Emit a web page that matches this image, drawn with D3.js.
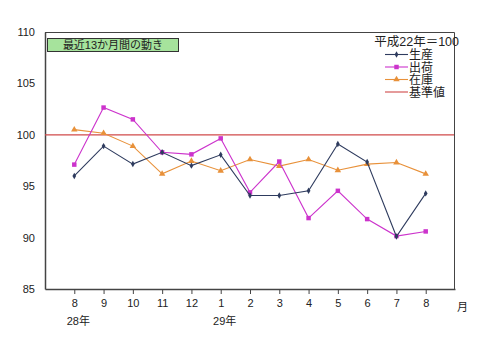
<!DOCTYPE html>
<html>
<head>
<meta charset="utf-8">
<script src="https://cdn.jsdelivr.net/npm/d3@7/dist/d3.min.js"></script>
<style>
  body { margin: 0; background: #fff; }
  .chart-text { font-family: "Liberation Sans", "Noto Sans CJK JP", sans-serif; font-size: 11px; fill: #222; }
</style>
</head>
<body>
<div id="chart"></div>
<script>
// months shown on the x axis (28年8月 .. 29年8月)
const months = ['8', '9', '10', '11', '12', '1', '2', '3', '4', '5', '6', '7', '8'];
const yearLabels = [{ index: 0, text: '28年' }, { index: 5, text: '29年' }];
const yTicks = [85, 90, 95, 100, 105, 110];

// 平成22年=100
const production = [96.0, 98.9, 97.15, 98.3, 97.0, 98.05, 94.1, 94.1, 94.55, 99.1, 97.35, 90.1, 94.3];
const shipments = [97.1, 102.65, 101.5, 98.3, 98.1, 99.65, 94.4, 97.4, 91.9, 94.55, 91.8, 90.15, 90.6];
const inventory = [100.5, 100.15, 98.9, 96.2, 97.45, 96.5, 97.6, 96.95, 97.6, 96.55, 97.15, 97.3, 96.2];
const baseline = 100;

const seriesNames = ['生産', '出荷', '在庫'];

const WIDTH = 480;
const HEIGHT = 351;

// plot box in pixels
const margin = { top: 32, right: 25, bottom: 62, left: 45 };
const width = WIDTH - margin.left - margin.right;
const height = HEIGHT - margin.top - margin.bottom;

const svg = d3
  .select('#chart')
  .append('svg')
  .attr('width', WIDTH)
  .attr('height', HEIGHT);

const g = svg
  .append('g')
  .attr('transform', 'translate(' + margin.left + ',' + margin.top + ')');

// one slot per month, with an empty slot at each end
const x = d3
  .scalePoint()
  .domain(d3.range(months.length))
  .range([0, width])
  .padding(1);

const y = d3.scaleLinear().domain([85, 110]).range([height, 0]);

// frame (top + right)
g.append('path')
  .attr('d', `M0,0.5H${width - 0.5}V${height}`)
  .attr('fill', 'none')
  .attr('stroke', '#444')
  .attr('stroke-width', 1);

// left axis: labels only
const yAxis = g
  .append('g')
  .call(d3.axisLeft(y).tickValues(yTicks).tickSize(0).tickPadding(10));
yAxis.select('.domain').attr('stroke', '#444').attr('stroke-width', 1.5);
yAxis.selectAll('text').attr('class', 'chart-text').attr('fill', '#222');

// bottom axis with ticks at each month
const xAxis = g
  .append('g')
  .attr('transform', 'translate(0,' + height + ')')
  .call(
    d3
      .axisBottom(x)
      .tickFormat(i => months[i])
      .tickSizeInner(5)
      .tickSizeOuter(0)
      .tickPadding(5)
  );
xAxis.select('.domain').attr('stroke', '#444').attr('stroke-width', 1.5);
xAxis.selectAll('.tick line').attr('stroke', '#444');
xAxis.selectAll('text').attr('class', 'chart-text').attr('fill', '#222');

// year labels under the months
g.selectAll('.year-label')
  .data(yearLabels)
  .enter()
  .append('text')
  .attr('class', 'chart-text')
  .attr('x', d => x(d.index) + 4)
  .attr('y', height + 36)
  .attr('text-anchor', 'middle')
  .text(d => d.text);

g.append('text')
  .attr('class', 'chart-text')
  .attr('x', width + 2)
  .attr('y', height + 22)
  .text('月');

// baseline at 100
g.append('line')
  .attr('x1', 0)
  .attr('x2', width - 1)
  .attr('y1', y(baseline))
  .attr('y2', y(baseline))
  .attr('stroke', '#d04a4a')
  .attr('stroke-width', 1.2);

const line = d3
  .line()
  .x((d, i) => x(i))
  .y(d => y(d));

const series = [
  { name: seriesNames[0], values: production, color: '#2e3b5e', symbol: d3.symbolDiamond, size: 12 },
  { name: seriesNames[1], values: shipments, color: '#cc33cc', symbol: d3.symbolSquare, size: 20 },
  { name: seriesNames[2], values: inventory, color: '#e8913a', symbol: d3.symbolTriangle, size: 18 }
];

// draw inventory first, then shipments, production on top
[series[2], series[1], series[0]].forEach(s => {
  g.append('path')
    .datum(s.values)
    .attr('fill', 'none')
    .attr('stroke', s.color)
    .attr('stroke-width', 1.1)
    .attr('d', line);

  g.append('g')
    .selectAll('path')
    .data(s.values)
    .enter()
    .append('path')
    .attr('transform', (d, i) => `translate(${x(i)},${y(d)})`)
    .attr('d', d3.symbol().type(s.symbol).size(s.size))
    .attr('fill', s.color);
});

// title box
const titleBox = svg.append('g').attr('transform', 'translate(47,38)');
titleBox
  .append('rect')
  .attr('x', 0.5)
  .attr('y', 0.5)
  .attr('width', 131)
  .attr('height', 13)
  .attr('fill', '#a6e39c')
  .attr('stroke', '#333')
  .attr('stroke-width', 1);
titleBox
  .append('text')
  .attr('class', 'chart-text')
  .attr('x', 66)
  .attr('y', 11)
  .attr('text-anchor', 'middle')
  .text('最近13か月間の動き');

// legend
const legend = svg.append('g').attr('transform', 'translate(385,0)');
legend
  .append('text')
  .attr('class', 'chart-text')
  .attr('x', 74)
  .attr('y', 46)
  .attr('text-anchor', 'end')
  .style('font-size', '12.5px')
  .text('平成22年＝100');

const legendItems = series
  .map(s => ({ name: s.name, color: s.color, symbol: s.symbol, size: s.size }))
  .concat([{ name: '基準値', color: '#d04a4a', symbol: null }]);

const legendRow = legend
  .selectAll('.legend-row')
  .data(legendItems)
  .enter()
  .append('g')
  .attr('transform', (d, i) => `translate(0,${54.5 + i * 12.5})`);

legendRow
  .append('line')
  .attr('x1', 0)
  .attr('x2', 23)
  .attr('stroke', d => d.color)
  .attr('stroke-width', 1.1);

legendRow
  .filter(d => d.symbol)
  .append('path')
  .attr('transform', 'translate(11.5,0)')
  .attr('d', d => d3.symbol().type(d.symbol).size(d.size)())
  .attr('fill', d => d.color);

legendRow
  .append('text')
  .attr('class', 'chart-text')
  .attr('x', 24)
  .attr('y', 4.5)
  .style('font-size', '12px')
  .text(d => d.name);
</script>
</body>
</html>
